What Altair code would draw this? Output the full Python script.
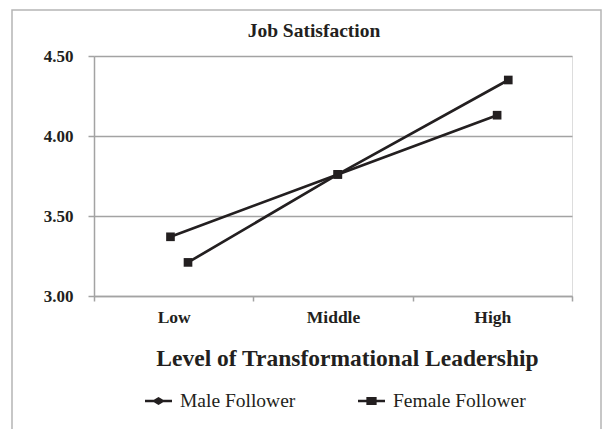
import altair as alt
import pandas as pd

# ---- data ----
categories = ["Low", "Middle", "High"]
series = ["Male Follower", "Female Follower"]
male_pos = [0.98, 2.03, 3.03]          # horizontal position in category units
male_vals = [3.37, 3.76, 4.13]
female_pos = [1.09, 2.03, 3.10]
female_vals = [3.21, 3.76, 4.35]
y_ticks = [3.0, 3.5, 4.0, 4.5]

rows = []
for s, pos, vals in [(series[0], male_pos, male_vals), (series[1], female_pos, female_vals)]:
    for i, (p, v) in enumerate(zip(pos, vals)):
        rows.append({"series": s, "level": categories[i], "pos": p, "value": v})
df = pd.DataFrame(rows)

INK = "#231f20"
GRID = "#a3a3a3"
FONT = "Liberation Serif"

label_expr = " : ".join(
    [f"datum.value == {i + 1} ? '{c}'" for i, c in enumerate(categories)]
) + " : ''"

x_enc = alt.X(
    "pos:Q",
    scale=alt.Scale(domain=[0.5, len(categories) + 0.5], nice=False, zero=False),
    axis=alt.Axis(
        values=[0.5, 1, 1.5, 2, 2.5, 3, 3.5],
        labelExpr=label_expr,
        grid=False,
        tickSize=5,
        tickColor=GRID,
        tickWidth=1.5,
        tickOpacity={"condition": {"test": "datum.value % 1 === 0", "value": 0}, "value": 1},
        labelPadding=7,
        labelFont=FONT,
        labelFontWeight="bold",
        labelFontSize=17.5,
        labelColor=INK,
        domainColor=GRID,
        domainWidth=1.5,
        title="Level of Transformational Leadership",
        titleFont=FONT,
        titleFontWeight="bold",
        titleFontSize=23.5,
        titleColor=INK,
        titleX=253,
        titleY=69,
        titleBaseline="alphabetic",
        titleAlign="center",
    ),
)
y_enc = alt.Y(
    "value:Q",
    scale=alt.Scale(domain=[3.0, 4.5], nice=False, zero=False),
    axis=alt.Axis(
        values=y_ticks,
        format=".2f",
        grid=True,
        gridColor=GRID,
        gridWidth=1.5,
        tickSize=6,
        tickColor=GRID,
        tickWidth=1.5,
        labelPadding=15,
        labelFont=FONT,
        labelFontWeight="bold",
        labelFontSize=17,
        labelColor=INK,
        domainColor=GRID,
        domainWidth=1.5,
        title=None,
    ),
)

border = alt.Chart(alt.Data(values=[{"a": 1}])).mark_rect(
    filled=False, stroke="#b5b5b5", strokeWidth=1.5
).encode(
    x=alt.value(-82), x2=alt.value(507), y=alt.value(-46), y2=alt.value(420)
)

lines = alt.Chart(df).mark_line(color=INK, strokeWidth=2.7).encode(
    x=x_enc, y=y_enc, detail="series:N"
)

squares = alt.Chart(df).mark_point(
    shape="square", filled=True, color=INK, size=75, opacity=1
).encode(x=x_enc, y=y_enc)

male_path = "M-1,-0.1L-0.34,-0.1L0,-0.3L0.34,-0.1L1,-0.1L1,0.1L0.34,0.1L0,0.3L-0.34,0.1L-1,0.1Z"
female_path = "M-1,-0.1L-0.38,-0.1L-0.38,-0.3L0.38,-0.3L0.38,-0.1L1,-0.1L1,0.1L0.38,0.1L0.38,0.3L-0.38,0.3L-0.38,0.1L-1,0.1Z"

legend_layer = alt.Chart(df).mark_point(filled=True, color=INK, opacity=0).encode(
    x=x_enc,
    y=y_enc,
    shape=alt.Shape(
        "series:N",
        sort=series,
        scale=alt.Scale(domain=series, range=[male_path, female_path]),
        legend=alt.Legend(
            title=None,
            orient="none",
            legendX=51,
            legendY=331.5,
            direction="horizontal",
            columns=2,
            columnPadding=62,
            padding=0,
            symbolSize=729,
            symbolFillColor=INK,
            symbolStrokeWidth=0,
            symbolOpacity=1,
            labelOffset=8,
            labelFont=FONT,
            labelFontSize=19.5,
            labelColor=INK,
            labelBaseline="middle",
        ),
    ),
)

chart = alt.layer(border, lines, squares, legend_layer).properties(
    width=478,
    height=240,
    title=alt.TitleParams(
        "Job Satisfaction",
        font=FONT,
        fontWeight="bold",
        fontSize=19.5,
        color=INK,
        anchor="middle",
        frame="group",
        dx=-19,
        dy=45,
        offset=13,
    ),
    autosize=alt.AutoSizeParams(type="none"),
    padding={"left": 86, "top": 48, "right": 32, "bottom": 133},
).configure_view(stroke=None).configure(background="white").configure_axis(
    labelFont=FONT, titleFont=FONT
).configure_legend(labelFont=FONT).configure_title(font=FONT)

chart.save("out.html", embed_options={"renderer": "svg", "actions": False})
